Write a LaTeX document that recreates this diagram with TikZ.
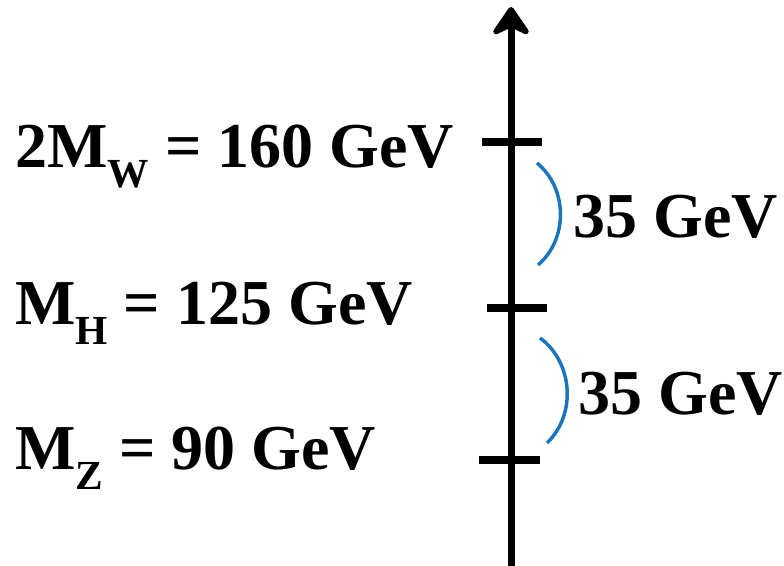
\documentclass[tikz,border=0pt]{standalone}
\usepackage{fontspec}
\setmainfont{Liberation Serif}
\usetikzlibrary{arrows.meta,positioning}
\definecolor{Gc}{HTML}{1C75BC}
\tikzset{
  axis/.style={line width=5.25pt, -{Stealth[length=25pt, width=34pt, inset=8pt, round]}},
  tick/.style={line width=6pt},
  gap/.style={Gc, line width=2.6pt},
  lbl/.style={anchor=base west, inner sep=0pt, font=\fontsize{48}{52}\selectfont\bfseries},
}
\newcommand{\lowsub}[1]{\raisebox{-0.3em}{\fontsize{31}{31}\selectfont #1}}

\begin{document}
\begin{tikzpicture}[x=0.75pt, y=0.75pt]
  \useasboundingbox (0,0) rectangle (784,566);
  \coordinate (bot) at (511,0);
  \coordinate (top) at (511,559);
  \draw[axis] (bot) -- (top);
  \coordinate (wL) at (482,424); \coordinate (wR) at (542,424);
  \coordinate (hL) at (487,258); \coordinate (hR) at (547,258);
  \coordinate (zL) at (479,106); \coordinate (zR) at (540,106);
  \draw[tick] (wL) -- (wR);
  \draw[tick] (hL) -- (hR);
  \draw[tick] (zL) -- (zR);
  \coordinate (g1a) at (537,403); \coordinate (g1b) at (538,301);
  \coordinate (g2a) at (540,228); \coordinate (g2b) at (547,123);
  \draw[gap] (g1a) to[bend left=50] (g1b);
  \draw[gap] (g2a) to[bend left=50] (g2b);
  \node[lbl] (mw) at (15,398) {2M\lowsub{W} = 160 GeV};
  \node[lbl] (mh) at (15,241) {M\lowsub{H} = 125 GeV};
  \node[lbl] (mz) at (15,96) {M\lowsub{Z} = 90 GeV};
  \node[lbl] (d1) at (573,328) {35 GeV};
  \node[lbl] (d2) at (578,151) {35 GeV};
\end{tikzpicture}
\end{document}
